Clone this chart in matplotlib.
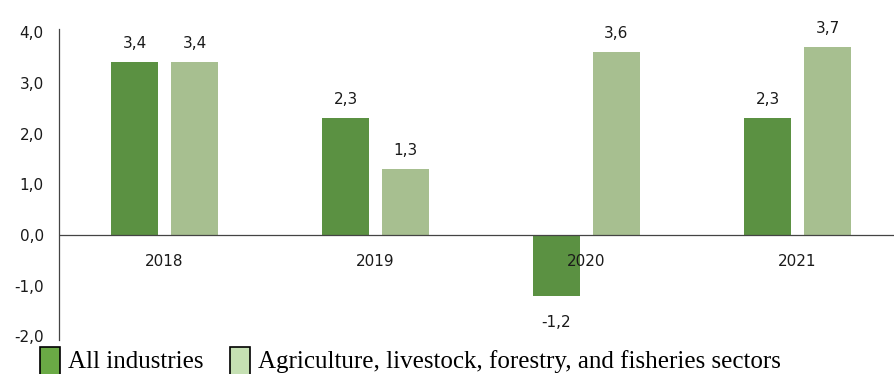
import matplotlib
matplotlib.use("Agg")
import matplotlib.pyplot as plt
import numpy as np
from matplotlib.patches import Rectangle

years = ["2018", "2019", "2020", "2021"]
all_industries = [3.4, 2.3, -1.2, 2.3]
agriculture = [3.4, 1.3, 3.6, 3.7]
labels = ["All industries", "Agriculture, livestock, forestry, and fisheries sectors"]


def fmt(v):
    return f"{v:.1f}".replace(".", ",")


W, H = 894, 374
fig = plt.figure(figsize=(W / 100, H / 100), dpi=100)
ax = fig.add_axes([59 / W, (H - 340) / H, 1 - 59 / W, (340 - 29) / H])

x = np.arange(len(years))
w = 0.227
off = 0.142
dark = "#5b9142"
light = "#a7bf90"
txt = "#1a1a1a"
ax.bar(x - off, all_industries, w, color=dark)
ax.bar(x + off, agriculture, w, color=light)

for i in range(len(years)):
    for v, dx in ((all_industries[i], -off), (agriculture[i], off)):
        if v >= 0:
            ax.text(x[i] + dx, v + 0.22, fmt(v), ha="center", va="bottom",
                    fontsize=11, color=txt)
        else:
            ax.text(x[i] + dx, v - 0.38, fmt(v), ha="center", va="top",
                    fontsize=11, color=txt)
    ax.text(x[i], -0.53, years[i], ha="center", va="center",
            fontsize=11, color=txt)

ax.set_xlim(-0.5, 3.5 - 9 / 211)
ax.set_ylim(-2.07, 4.06)
ticks = np.arange(-2, 4.1, 1)
ax.set_yticks(ticks)
ax.set_yticklabels([fmt(t) for t in ticks])
ax.set_xticks([])
ax.tick_params(axis="y", length=0, pad=11, labelsize=11, labelcolor=txt)
for s in ["top", "right", "bottom"]:
    ax.spines[s].set_visible(False)
ax.spines["left"].set_color("#444444")
ax.spines["left"].set_linewidth(0.9)
ax.axhline(0, color="#444444", linewidth=0.9)

# legend drawn by hand along the bottom edge
legend_colors = ["#6aaa45", "#c5e0b3"]
legend_x = [40, 230]
for lx, col, lab in zip(legend_x, legend_colors, labels):
    fig.patches.append(Rectangle((lx / W, -4 / H), 20 / W, 31 / H,
                                 transform=fig.transFigure, facecolor=col,
                                 edgecolor="black", linewidth=1.2))
    fig.text((lx + 28) / W, (H - 368) / H, lab, ha="left", va="baseline",
             family="Liberation Serif", fontsize=18, color="black")

fig.savefig("out.png", dpi=100)
